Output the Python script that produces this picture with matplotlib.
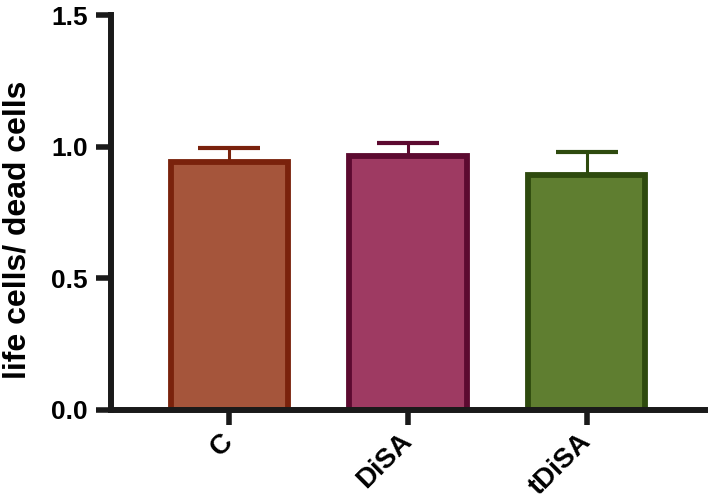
import matplotlib
matplotlib.use("Agg")
import matplotlib.pyplot as plt

categories = ["C", "DiSA", "tDiSA"]
values = [0.942, 0.963, 0.894]
errors = [0.053, 0.052, 0.086]
fill_colors = ["#A5553B", "#9E3A62", "#5F7E30"]
edge_colors = ["#7A220C", "#5C0A30", "#2E4A0E"]
yticks = [0.0, 0.5, 1.0, 1.5]
ytick_labels = ["0.0", "0.5", "1.0", "1.5"]

plt.rcParams['font.family'] = ['Liberation Sans', 'DejaVu Sans']

fig = plt.figure(figsize=(7.09, 5.04), dpi=100)
ax = fig.add_axes([0.157, 0.187, 0.837, 0.783])

x = list(range(len(categories)))
for i in x:
    ax.errorbar(i, values[i], yerr=[[0], [errors[i]]], fmt='none',
                ecolor=edge_colors[i], elinewidth=2.2, capsize=22.5, capthick=3, zorder=1)
    ax.bar(i, values[i], width=0.655, color=fill_colors[i], edgecolor=edge_colors[i],
           linewidth=4.2, zorder=2)

ax.set_xlim(-0.66, 2.66)
ax.set_ylim(0, 1.5)
ax.set_yticks(yticks)
ax.set_yticklabels(ytick_labels, fontsize=19, fontweight='bold')
ax.set_xticks(x)
ax.set_xticklabels(categories, fontsize=20, fontweight='bold', rotation=45,
                   ha='right', va='center', rotation_mode='anchor')
ax.set_ylabel("life cells/ dead cells", fontsize=23, fontweight='bold')
ax.yaxis.set_label_coords(-0.132, 0.455)

for s in ['top', 'right']:
    ax.spines[s].set_visible(False)
for s in ['left', 'bottom']:
    ax.spines[s].set_linewidth(4.3)
    ax.spines[s].set_color('#1a1a1a')
    ax.spines[s].set_capstyle('projecting')
ax.tick_params(axis='both', width=4, length=11, color='#1a1a1a', pad=6)
ax.tick_params(axis='x', pad=9)

fig.savefig("out.png", dpi=100)
